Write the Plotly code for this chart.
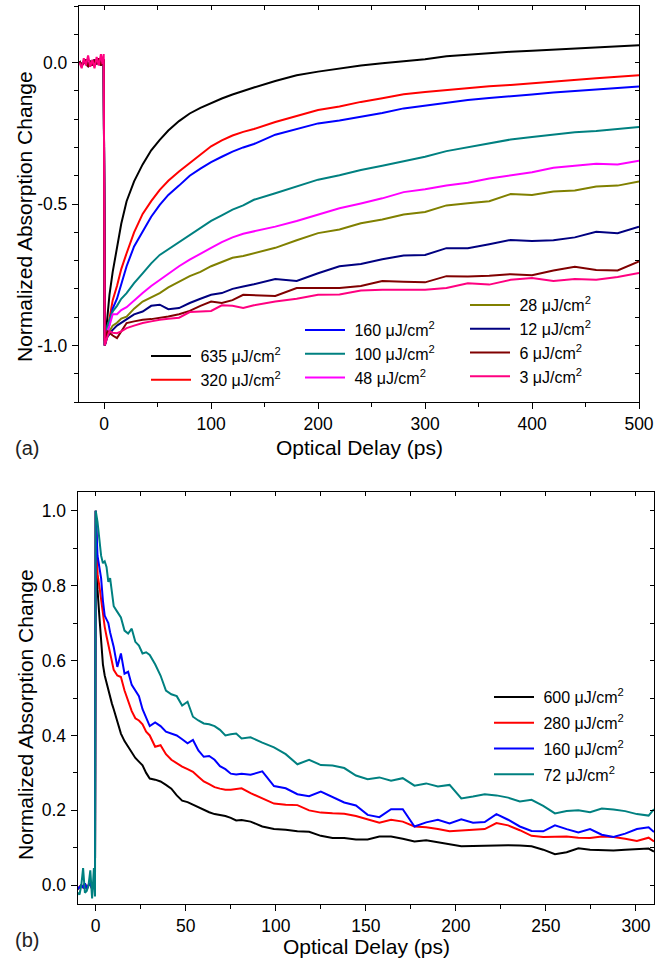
import plotly.graph_objects as go

# ---------------- Panel (a) data ----------------
PRE_A_T = [-23, -21, -19, -17, -15, -13, -11, -9, -7, -5, -3, -1.5, -0.4]
POST_A_T = [0.6, 3, 5, 8, 12, 16, 21, 28, 36, 44, 52, 60, 70, 80, 90, 100, 110, 120, 130,
            140, 160, 180, 200, 220, 240, 260, 280, 300, 320, 340, 360, 380, 400, 420, 440, 460, 480, 500]
T_A = PRE_A_T + POST_A_T

PRE_A_NOISE = [0.005, -0.01, 0.0, 0.01, -0.015, 0.005, -0.01, 0.01, -0.005, 0.015, -0.01, 0.0, 0.01]
PRE_A_PINK = [0.0, -0.02, 0.015, -0.01, 0.025, -0.015, 0.01, -0.02, 0.02, -0.01, 0.03, -0.005, 0.03]

A_635 = [-1.0, -0.90, -0.82, -0.74, -0.655, -0.57, -0.49, -0.42, -0.36, -0.31, -0.273, -0.24, -0.207, -0.18, -0.16, -0.143, -0.127, -0.113, -0.10,
         -0.088, -0.065, -0.045, -0.032, -0.02, -0.010, -0.002, 0.005, 0.012, 0.022, 0.028, 0.033, 0.038, 0.042, 0.046, 0.050, 0.053, 0.057, 0.061]
A_320 = [-1.0, -0.95, -0.90, -0.84, -0.79, -0.73, -0.674, -0.60, -0.535, -0.49, -0.45, -0.418, -0.385, -0.355, -0.323, -0.296, -0.275, -0.258, -0.245,
         -0.235, -0.21, -0.19, -0.168, -0.155, -0.139, -0.126, -0.112, -0.104, -0.097, -0.090, -0.084, -0.079, -0.073, -0.065, -0.060, -0.055, -0.050, -0.045]
A_160 = [-1.0, -0.96, -0.92, -0.87, -0.835, -0.78, -0.72, -0.65, -0.595, -0.545, -0.503, -0.468, -0.435, -0.40, -0.375, -0.352, -0.333, -0.315, -0.300,
         -0.288, -0.255, -0.235, -0.215, -0.205, -0.192, -0.178, -0.162, -0.152, -0.140, -0.132, -0.125, -0.120, -0.113, -0.106, -0.100, -0.095, -0.090, -0.085]
A_100 = [-1.0, -0.93, -0.91, -0.88, -0.86, -0.835, -0.815, -0.78, -0.745, -0.71, -0.68, -0.66, -0.635, -0.61, -0.585, -0.56, -0.54, -0.52, -0.505,
         -0.485, -0.462, -0.438, -0.414, -0.398, -0.38, -0.365, -0.348, -0.333, -0.313, -0.30, -0.285, -0.272, -0.263, -0.255, -0.246, -0.242, -0.235, -0.228]
A_48 = [-1.0, -0.95, -0.93, -0.89, -0.89, -0.875, -0.865, -0.84, -0.815, -0.79, -0.768, -0.745, -0.72, -0.697, -0.675, -0.655, -0.635, -0.618, -0.605,
        -0.597, -0.58, -0.56, -0.538, -0.515, -0.498, -0.48, -0.458, -0.448, -0.435, -0.425, -0.41, -0.400, -0.388, -0.372, -0.366, -0.358, -0.36, -0.347]
A_28 = [-1.0, -0.96, -0.95, -0.93, -0.92, -0.905, -0.898, -0.87, -0.845, -0.83, -0.815, -0.795, -0.774, -0.755, -0.74, -0.72, -0.705, -0.69, -0.684,
        -0.675, -0.655, -0.628, -0.603, -0.59, -0.568, -0.555, -0.537, -0.528, -0.505, -0.497, -0.49, -0.465, -0.468, -0.456, -0.452, -0.438, -0.435, -0.42]
A_12 = [-1.0, -0.97, -0.96, -0.945, -0.93, -0.92, -0.909, -0.89, -0.88, -0.86, -0.856, -0.872, -0.868, -0.85, -0.835, -0.821, -0.815, -0.80, -0.792,
        -0.784, -0.765, -0.772, -0.745, -0.72, -0.712, -0.695, -0.682, -0.68, -0.656, -0.656, -0.642, -0.627, -0.631, -0.628, -0.618, -0.598, -0.603, -0.58]
A_6 = [-0.985, -0.95, -0.955, -0.965, -0.974, -0.95, -0.921, -0.915, -0.909, -0.907, -0.903, -0.898, -0.89, -0.878, -0.86, -0.845, -0.85, -0.84, -0.821,
       -0.823, -0.825, -0.797, -0.797, -0.797, -0.79, -0.772, -0.775, -0.777, -0.755, -0.756, -0.754, -0.748, -0.752, -0.735, -0.722, -0.733, -0.735, -0.703]
A_3 = [-1.0, -0.97, -0.95, -0.955, -0.957, -0.95, -0.939, -0.93, -0.921, -0.915, -0.909, -0.906, -0.902, -0.882, -0.88, -0.878, -0.858, -0.86, -0.868,
       -0.858, -0.845, -0.835, -0.821, -0.82, -0.806, -0.803, -0.803, -0.803, -0.797, -0.78, -0.785, -0.768, -0.762, -0.772, -0.765, -0.768, -0.758, -0.744]

A_LABELS = ["635", "320", "160", "100", "48", "28", "12", "6", "3"]
A_SERIES = [A_635, A_320, A_160, A_100, A_48, A_28, A_12, A_6, A_3]
A_COLORS = ["#000000", "#FF0000", "#0000FF", "#008080", "#FF00FF", "#808000", "#000080", "#800000", "#FF0080"]
A_LEGEND = ["legend", "legend", "legend2", "legend2", "legend2", "legend3", "legend3", "legend3", "legend3"]

YA_TICKVALS = [-1.0, -0.5, 0.0]
YA_TICKTEXT = ["-1.0", "-0.5", "0.0"]

# ---------------- Panel (b) data ----------------
PRE_B_T = [-10, -9, -8, -7, -6, -5, -4, -3, -2, -1, -0.4]
POST_B_T = [0, 1, 2, 3, 4, 5, 6, 7, 8, 9, 10, 12, 14, 16, 18, 20, 22, 24, 26, 28, 30, 33, 36, 39, 42, 45, 48, 51, 54, 57,
            60, 63, 66, 69, 72, 75, 78, 81,
            86, 92.5, 99, 105.5, 112, 118.5, 125, 131.5, 138, 144.5, 151, 157.5, 164, 170.5, 177, 183.5, 190, 196.5,
            203, 209.5, 216, 222.5, 229, 235.5, 242, 248.5, 255, 261.5, 268, 274.5, 281, 287.5, 294, 300.5, 307, 310]
T_B = PRE_B_T + POST_B_T

PRE_B_NOISE = [-0.01, -0.005, 0.0, -0.005, 0.005, -0.01, 0.0, 0.005, -0.01, 0.0, -0.005]
PRE_B_TEAL = [-0.02, -0.025, 0.0, 0.046, -0.02, -0.015, 0.0, 0.04, -0.035, 0.046, -0.03]

B_600 = [1.0, 0.79, 0.72, 0.64, 0.59, 0.56, 0.54, 0.52, 0.50, 0.485, 0.47, 0.44, 0.405, 0.385, 0.37, 0.355, 0.34, 0.33, 0.32, 0.30,
         0.285, 0.282, 0.277, 0.268, 0.258, 0.24, 0.226, 0.222, 0.215, 0.208, 0.20, 0.195, 0.19, 0.188, 0.185, 0.18, 0.173, 0.174,
         0.170, 0.157, 0.150, 0.148, 0.144, 0.143, 0.132, 0.126, 0.126, 0.122, 0.122, 0.130, 0.130, 0.124, 0.117, 0.120, 0.114, 0.108,
         0.104, 0.105, 0.106, 0.106, 0.107, 0.106, 0.104, 0.095, 0.083, 0.088, 0.099, 0.095, 0.093, 0.093, 0.095, 0.097, 0.098, 0.090]
B_280 = [1.0, 0.83, 0.80, 0.76, 0.73, 0.69, 0.665, 0.64, 0.62, 0.60, 0.575, 0.56, 0.556, 0.52, 0.49, 0.465, 0.446, 0.44, 0.43, 0.41,
         0.40, 0.37, 0.374, 0.35, 0.335, 0.325, 0.317, 0.31, 0.303, 0.29, 0.277, 0.27, 0.262, 0.258, 0.255, 0.255, 0.256, 0.259,
         0.246, 0.232, 0.218, 0.215, 0.214, 0.200, 0.194, 0.192, 0.191, 0.185, 0.175, 0.167, 0.175, 0.170, 0.157, 0.155, 0.150, 0.144,
         0.146, 0.148, 0.150, 0.166, 0.160, 0.147, 0.132, 0.129, 0.130, 0.130, 0.127, 0.126, 0.130, 0.129, 0.124, 0.118, 0.127, 0.117]
B_160 = [1.0, 0.88, 0.85, 0.82, 0.76, 0.72, 0.71, 0.70, 0.675, 0.655, 0.636, 0.583, 0.619, 0.565, 0.57, 0.535, 0.52, 0.505, 0.47, 0.445,
         0.425, 0.435, 0.425, 0.41, 0.405, 0.40, 0.39, 0.379, 0.388, 0.36, 0.343, 0.345, 0.335, 0.318, 0.31, 0.298, 0.296, 0.298,
         0.295, 0.304, 0.265, 0.259, 0.243, 0.238, 0.250, 0.235, 0.221, 0.213, 0.188, 0.182, 0.203, 0.203, 0.157, 0.168, 0.175, 0.165,
         0.176, 0.167, 0.169, 0.190, 0.175, 0.157, 0.145, 0.144, 0.160, 0.150, 0.141, 0.150, 0.135, 0.129, 0.138, 0.150, 0.155, 0.142]
B_72 = [1.0, 0.97, 0.92, 0.88, 0.86, 0.865, 0.85, 0.81, 0.82, 0.78, 0.745, 0.73, 0.715, 0.68, 0.672, 0.685, 0.65, 0.64, 0.619, 0.622,
        0.615, 0.59, 0.56, 0.52, 0.51, 0.505, 0.48, 0.49, 0.45, 0.44, 0.432, 0.43, 0.425, 0.415, 0.40, 0.403, 0.405, 0.392,
        0.395, 0.381, 0.368, 0.350, 0.323, 0.335, 0.321, 0.320, 0.313, 0.293, 0.283, 0.288, 0.279, 0.286, 0.266, 0.272, 0.264, 0.268,
        0.232, 0.237, 0.243, 0.240, 0.234, 0.224, 0.228, 0.212, 0.192, 0.198, 0.200, 0.195, 0.205, 0.202, 0.198, 0.190, 0.186, 0.203]

B_LABELS = ["600", "280", "160", "72"]
B_SERIES = [B_600, B_280, B_160, B_72]
B_PRE = [PRE_B_NOISE, PRE_B_NOISE, PRE_B_NOISE, PRE_B_TEAL]
B_COLORS = ["#000000", "#FF0000", "#0000FF", "#008080"]

FONT = "Arial, Liberation Sans, sans-serif"
W, H = 667, 962
NBSP = "\u00a0"

fig = go.Figure()

for lab, ser, col, lg in zip(A_LABELS, A_SERIES, A_COLORS, A_LEGEND):
    pre = PRE_A_PINK if lab == "3" else PRE_A_NOISE
    fig.add_trace(go.Scatter(x=T_A, y=pre + ser, mode="lines", line=dict(color=col, width=2),
                             name=NBSP + lab + " \u03bcJ/cm<sup>2</sup>", legend=lg, xaxis="x", yaxis="y",
                             legendgroup=lab))

for lab, ser, pre, col in zip(B_LABELS, B_SERIES, B_PRE, B_COLORS):
    fig.add_trace(go.Scatter(x=T_B, y=pre + ser, mode="lines", line=dict(color=col, width=2),
                             name=NBSP + lab + " \u03bcJ/cm<sup>2</sup>", legend="legend4", xaxis="x2", yaxis="y2",
                             legendgroup="b" + lab))

# invisible traces that activate the mirrored (top/right) axes
fig.add_trace(go.Scatter(x=[0], y=[0], mode="markers", marker=dict(opacity=0), showlegend=False,
                         hoverinfo="skip", xaxis="x3", yaxis="y3"))
fig.add_trace(go.Scatter(x=[0], y=[0.5], mode="markers", marker=dict(opacity=0), showlegend=False,
                         hoverinfo="skip", xaxis="x4", yaxis="y4"))

axis_common = dict(showline=True, linecolor="#000000", linewidth=1.3, showgrid=False, zeroline=False,
                   tickwidth=1.2, tickcolor="#000000", automargin=False,
                   tickfont=dict(family=FONT, size=17.5, color="#000000"))
mirror_common = dict(showticklabels=False, showline=True, linecolor="#000000", linewidth=1.3, showgrid=False,
                     zeroline=False, ticks="inside", ticklen=4, tickwidth=1.2, tickcolor="#000000", automargin=False)
minor_out = dict(ticks="outside", ticklen=4, tickcolor="#000000", tickwidth=1.2)

XA_DOM = [79 / W, 639 / W]
YA_DOM = [1 - 402 / H, 1 - 6 / H]
XB_DOM = [77.7 / W, 654 / W]
YB_DOM = [1 - 904 / H, 1 - 492 / H]

XA_RANGE = [-23.5, 500]
YA_RANGE = [-1.2, 0.2]
XB_RANGE = [-10, 310]
YB_RANGE = [-0.05, 1.05]

fig.update_layout(
    width=W, height=H, autosize=False, margin=dict(l=0, r=0, t=0, b=0, autoexpand=False),
    paper_bgcolor="white", plot_bgcolor="white",
    font=dict(family=FONT, color="#000000"),
    xaxis=dict(domain=XA_DOM, range=XA_RANGE, anchor="y", ticks="outside", ticklen=6, dtick=100, tick0=0,
               minor=dict(dtick=50, **minor_out), ticklabelstandoff=0, **axis_common),
    yaxis=dict(domain=YA_DOM, range=YA_RANGE, anchor="x", ticks="outside", ticklen=6,
               tickvals=YA_TICKVALS, ticktext=YA_TICKTEXT,
               minor=dict(dtick=0.1, tick0=0, **minor_out), ticklabelstandoff=1, **axis_common),
    xaxis2=dict(domain=XB_DOM, range=XB_RANGE, anchor="y2", ticks="outside", ticklen=6, dtick=50, tick0=0,
                minor=dict(dtick=25, **minor_out), ticklabelstandoff=0, **axis_common),
    yaxis2=dict(domain=YB_DOM, range=YB_RANGE, anchor="x2", ticks="outside", ticklen=6, dtick=0.2, tick0=0,
                tickformat=".1f", minor=dict(dtick=0.1, **minor_out), ticklabelstandoff=1, **axis_common),
    xaxis3=dict(overlaying="x", anchor="y", side="top", range=XA_RANGE, dtick=50, tick0=0, **mirror_common),
    yaxis3=dict(overlaying="y", anchor="x", side="right", range=YA_RANGE, dtick=0.1, tick0=0, **mirror_common),
    xaxis4=dict(overlaying="x2", anchor="y2", side="top", range=XB_RANGE, dtick=25, tick0=0, **mirror_common),
    yaxis4=dict(overlaying="y2", anchor="x2", side="right", range=YB_RANGE, dtick=0.1, tick0=0, **mirror_common),
    showlegend=True,
)

leg_common = dict(bgcolor="rgba(0,0,0,0)", borderwidth=0, font=dict(family=FONT, size=16, color="#000000"),
                  xanchor="left", yanchor="top", itemwidth=40, traceorder="grouped")
fig.update_layout(
    legend=dict(x=146 / W, y=1 - 339 / H, tracegroupgap=0, **leg_common),
    legend2=dict(x=300 / W, y=1 - 313 / H, tracegroupgap=0, **leg_common),
    legend3=dict(x=465 / W, y=1 - 288 / H, tracegroupgap=0, **leg_common),
    legend4=dict(x=489 / W, y=1 - 680 / H, tracegroupgap=2, **leg_common),
)

ann = [
    dict(text="Normalized Absorption Change", x=25 / W, y=1 - 217 / H, textangle=-90, font=dict(size=21)),
    dict(text="Normalized Absorption Change", x=25 / W, y=1 - 715 / H, textangle=-90, font=dict(size=21)),
    dict(text="Optical Delay (ps)", x=359 / W, y=1 - 447 / H, font=dict(size=21)),
    dict(text="Optical Delay (ps)", x=366 / W, y=1 - 946 / H, font=dict(size=21)),
    dict(text="(a)", x=27 / W, y=1 - 448 / H, font=dict(size=20, color="#222222")),
    dict(text="(b)", x=27 / W, y=1 - 940 / H, font=dict(size=20, color="#222222")),
]
for a in ann:
    a.update(xref="paper", yref="paper", showarrow=False, xanchor="center", yanchor="middle")
    a["font"].update(family=FONT)
    a["font"].setdefault("color", "#000000")
fig.update_layout(annotations=ann)

POST_JS = """
var gd = document.getElementById('{plot_id}');
document.documentElement.style.overflow = 'hidden';
document.body.style.overflow = 'hidden';
document.body.style.margin = '0';
document.body.style.padding = '0';
Plotly.relayout(gd, {width: 667, height: 962});
"""

fig.write_html("out.html", config={"responsive": False}, post_script=POST_JS)
